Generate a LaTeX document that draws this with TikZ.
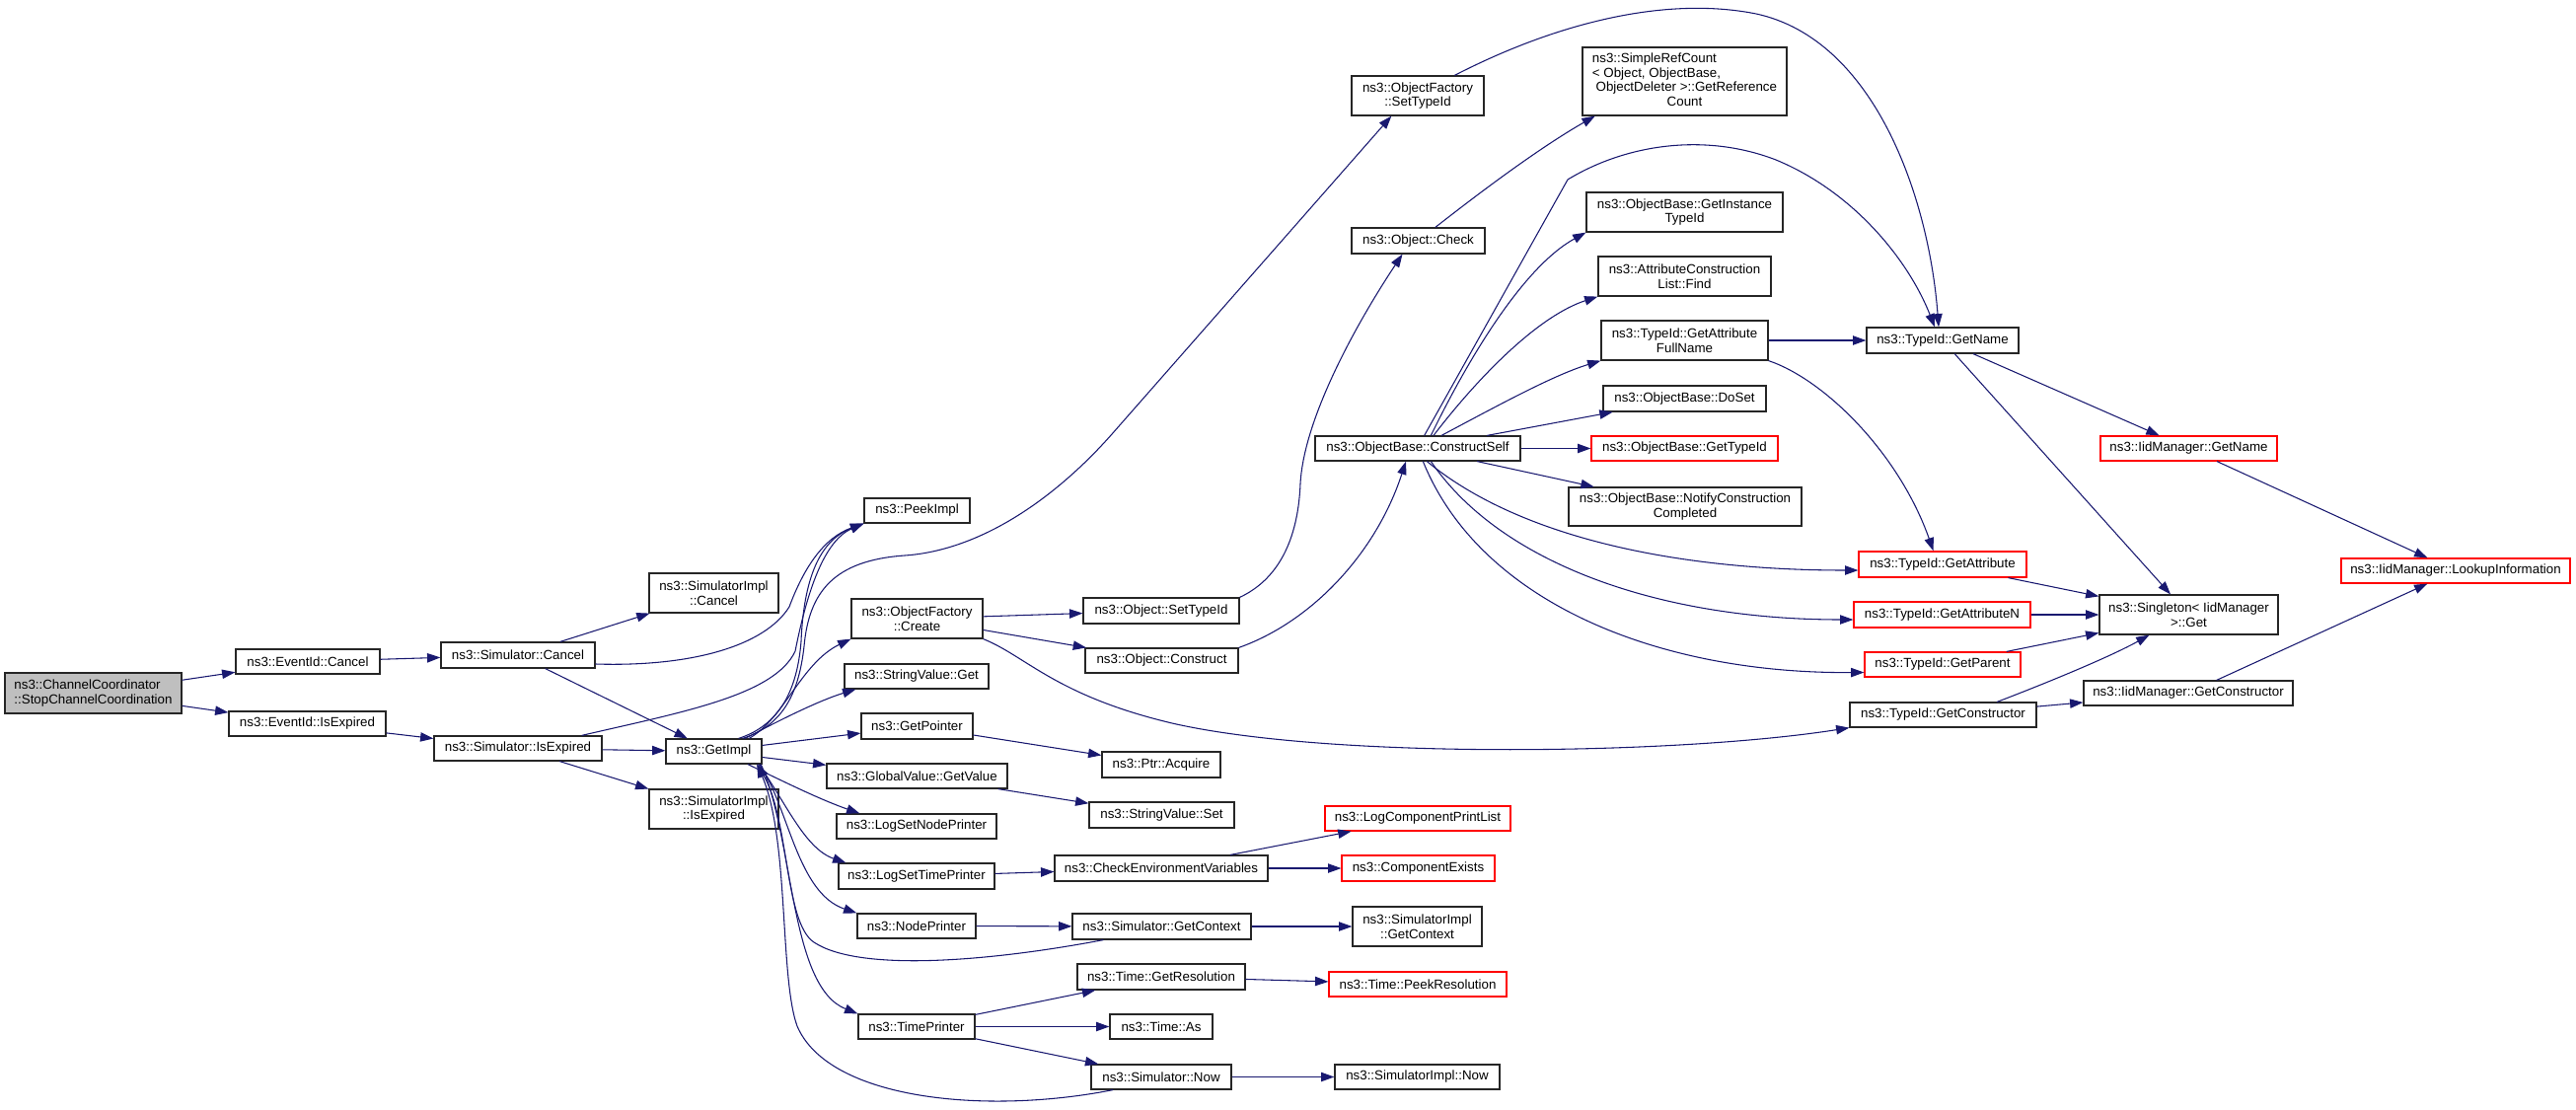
\documentclass[tikz,border=0pt]{standalone}
\usepackage{fontspec}
\setmainfont{Liberation Sans}
\usetikzlibrary{arrows.meta}
\definecolor{edgec}{HTML}{191970}
\definecolor{rootfill}{HTML}{BFBFBF}
\definecolor{bord}{HTML}{262626}
\begin{document}
\begin{tikzpicture}[x=0.75pt,y=-0.75pt,
  nd/.style={draw=bord, fill=white, line width=0.9pt, inner sep=0pt, align=center,
    font=\fontsize{10}{11}\selectfont},
  trunc/.style={draw=red},
  sz/.style 2 args={minimum width=#1*0.75pt, minimum height=#2*0.75pt},
  ed/.style={draw=edgec, line width=0.8pt, -{Triangle[length=10pt,width=7pt]}}]
\useasboundingbox (0,0) rectangle (2611,1124);

% column 1-4
\node[nd,fill=rootfill,sz={179}{41},align=left] (stop) at (94.5,702.5) {ns3::ChannelCoordinator\\::StopChannelCoordination};
\node[nd,sz={146}{25}] (evcancel) at (312,670.5) {ns3::EventId::Cancel};
\node[nd,sz={159}{25}] (evexp) at (311.5,733.5) {ns3::EventId::IsExpired};
\node[nd,sz={156}{26}] (simcancel) at (525,664) {ns3::Simulator::Cancel};
\node[nd,sz={170}{25}] (simexp) at (525,758.5) {ns3::Simulator::IsExpired};
\node[nd,sz={131}{40}] (implcancel) at (723.5,601) {ns3::SimulatorImpl\\::Cancel};
\node[nd,sz={97}{25}] (getimpl) at (723.5,761.5) {ns3::GetImpl};
\node[nd,sz={131}{40}] (implexp) at (723.5,820) {ns3::SimulatorImpl\\::IsExpired};
% column 5
\node[nd,sz={107}{25}] (peek) at (929.5,517.5) {ns3::PeekImpl};
\node[nd,sz={133}{40}] (create) at (929.5,627) {ns3::ObjectFactory\\::Create};
\node[nd,sz={146}{25}] (svget) at (929,685.5) {ns3::StringValue::Get};
\node[nd,sz={113}{26}] (getptr) at (929.5,736) {ns3::GetPointer};
\node[nd,sz={183}{25}] (gvget) at (929.5,786.5) {ns3::GlobalValue::GetValue};
\node[nd,sz={162}{25}] (lognode) at (929,837.5) {ns3::LogSetNodePrinter};
\node[nd,sz={158}{26}] (logtime) at (929,888) {ns3::LogSetTimePrinter};
\node[nd,sz={120}{25}] (nodeprinter) at (929,938.5) {ns3::NodePrinter};
\node[nd,sz={118}{25}] (timeprinter) at (929,1040.5) {ns3::TimePrinter};
% column 6
\node[nd,sz={158}{26}] (objsettype) at (1177,619) {ns3::Object::SetTypeId};
\node[nd,sz={155}{25}] (objconstruct) at (1177.5,669.5) {ns3::Object::Construct};
\node[nd,sz={120}{26}] (ptracq) at (1177,775) {ns3::Ptr::Acquire};
\node[nd,sz={147}{26}] (svset) at (1177.5,826) {ns3::StringValue::Set};
\node[nd,sz={216}{26}] (checkenv) at (1177,880) {ns3::CheckEnvironmentVariables};
\node[nd,sz={181}{26}] (simgetctx) at (1177.5,939) {ns3::Simulator::GetContext};
\node[nd,sz={170}{26}] (getres) at (1177,990) {ns3::Time::GetResolution};
\node[nd,sz={104}{25}] (timeas) at (1177,1040.5) {ns3::Time::As};
\node[nd,sz={142}{25}] (simnow) at (1177,1091.5) {ns3::Simulator::Now};
% column 7
\node[nd,sz={134}{40}] (ofsettype) at (1437,97) {ns3::ObjectFactory\\::SetTypeId};
\node[nd,sz={135}{26}] (objcheck) at (1437.5,244) {ns3::Object::Check};
\node[nd,sz={208}{25}] (constructself) at (1437,454.5) {ns3::ObjectBase::ConstructSelf};
\node[nd,trunc,sz={188}{25}] (logcomp) at (1437,829.5) {ns3::LogComponentPrintList};
\node[nd,trunc,sz={155}{26}] (compexists) at (1437.5,880) {ns3::ComponentExists};
\node[nd,sz={131}{40}] (implgetctx) at (1436.5,939) {ns3::SimulatorImpl\\::GetContext};
\node[nd,trunc,sz={180}{25}] (peekres) at (1437,997.5) {ns3::Time::PeekResolution};
\node[nd,sz={167}{25}] (implnow) at (1436.5,1091.5) {ns3::SimulatorImpl::Now};
% column 8
\node[nd,sz={207}{69}] (simpleref) at (1707.5,82.5) {\begin{tabular}{@{}l@{}}ns3::SimpleRefCount\\{<} Object, ObjectBase,\\\ ObjectDeleter {>}::GetReference\\\multicolumn{1}{@{}c@{}}{Count}\end{tabular}};
\node[nd,sz={199}{40}] (instance) at (1707.5,215) {ns3::ObjectBase::GetInstance\\TypeId};
\node[nd,sz={175}{40}] (attrfind) at (1707.5,280) {ns3::AttributeConstruction\\List::Find};
\node[nd,sz={169}{40}] (attrfull) at (1707.5,345) {ns3::TypeId::GetAttribute\\FullName};
\node[nd,sz={165}{26}] (doset) at (1707.5,404) {ns3::ObjectBase::DoSet};
\node[nd,trunc,sz={189}{25}] (gettypeid) at (1707.5,454.5) {ns3::ObjectBase::GetTypeId};
\node[nd,sz={236}{39}] (notify) at (1708,513.5) {ns3::ObjectBase::NotifyConstruction\\Completed};
% column 9
\node[nd,sz={154}{26}] (tgetname) at (1969,345) {ns3::TypeId::GetName};
\node[nd,trunc,sz={170}{26}] (getattr) at (1969,572) {ns3::TypeId::GetAttribute};
\node[nd,trunc,sz={179}{26}] (getattrn) at (1968.5,623) {ns3::TypeId::GetAttributeN};
\node[nd,trunc,sz={158}{25}] (getparent) at (1969,673.5) {ns3::TypeId::GetParent};
\node[nd,sz={189}{25}] (tgetctor) at (1969.5,724.5) {ns3::TypeId::GetConstructor};
% column 10-11
\node[nd,trunc,sz={179}{25}] (iidgetname) at (2218.5,454.5) {ns3::IidManager::GetName};
\node[nd,sz={181}{40}] (singleton) at (2218.5,623) {ns3::Singleton{<} IidManager\\{>}::Get};
\node[nd,sz={212}{25}] (iidgetctor) at (2218,702.5) {ns3::IidManager::GetConstructor};
\node[nd,trunc,sz={232}{25}] (lookup) at (2489,578.5) {ns3::IidManager::LookupInformation};

% edges: left part
\draw[ed] (stop) -- (evcancel);
\draw[ed] (stop) -- (evexp);
\draw[ed] (evcancel) -- (simcancel);
\draw[ed] (evexp) -- (simexp);
\draw[ed] (simcancel) -- (implcancel);
\draw[ed] (simcancel) -- (getimpl);
\draw[ed] (simexp) -- (getimpl);
\draw[ed] (simexp) -- (implexp);
\draw[ed] ([yshift=-6.75pt]simcancel.east) .. controls (700,676) and (775,655) .. (800,615) .. controls (815,575) and (835,545) .. (peek.south west);
\draw[ed] ([xshift=-15.75pt]simexp.north east) .. controls (690,722) and (785,705) .. (806,660) .. controls (818,600) and (835,548) .. (peek.south west);
\draw[ed] ([xshift=-18pt]getimpl.north east) .. controls (790,735) and (808,700) .. (812,650) .. controls (815,578) and (835,546) .. (peek.south west);
\draw[ed] ([xshift=-15pt]getimpl.north east) .. controls (795,735) and (810,700) .. (815,655) .. controls (820,600) and (845,568) .. (917,563) .. controls (990,558) and (1065,510) .. (1127,440) -- ([xshift=-20pt]ofsettype.south);
\draw[ed] ([xshift=-10pt]getimpl.north east) .. controls (795,728) and (812,672) .. (create.south west);
\draw[ed] ([xshift=-13pt]getimpl.north east) .. controls (790,730) and (830,710) .. ([xshift=9pt]svget.south west);
\draw[ed] (getimpl) -- (getptr);
\draw[ed] (getimpl) -- (gvget);
\draw[ed] ([xshift=-11pt]getimpl.south east) .. controls (790,790) and (830,810) .. ([xshift=18pt]lognode.north west);
\draw[ed] ([xshift=-3pt]getimpl.south east) .. controls (795,810) and (815,860) .. ([xshift=6pt]logtime.north west);
\draw[ed] ([xshift=-2pt]getimpl.south east) .. controls (800,820) and (808,905) .. (nodeprinter.north west);
\draw[ed] ([xshift=-1pt]getimpl.south east) .. controls (805,850) and (800,1000) .. (timeprinter.north west);
\draw[ed] ([xshift=24pt]simgetctx.south west) .. controls (1000,975) and (870,985) .. (825,955) .. controls (795,935) and (800,830) .. ([xshift=-4pt]getimpl.south east);
\draw[ed] ([xshift=17pt]simnow.south west) .. controls (1000,1130) and (840,1115) .. (808,1040) .. controls (790,990) and (800,850) .. ([xshift=-4pt]getimpl.south east);

% column 5 -> 6
\draw[ed] (create) -- (objsettype);
\draw[ed] (create) -- (objconstruct);
\draw[ed] (create.south east) .. controls (1040,665) and (1070,705) .. (1188,733) .. controls (1350,770) and (1700,765) .. (tgetctor.south west);
\draw[ed] (getptr) -- (ptracq);
\draw[ed] (gvget) -- (svset);
\draw[ed] (logtime) -- (checkenv);
\draw[ed] (nodeprinter) -- (simgetctx);
\draw[ed] (timeprinter) -- (getres);
\draw[ed] (timeprinter) -- (timeas);
\draw[ed] (timeprinter) -- (simnow);
% column 6 -> 7
\draw[ed] (checkenv) -- (logcomp);
\draw[ed] (checkenv) -- (compexists);
\draw[ed] (simgetctx) -- (implgetctx);
\draw[ed] (getres) -- (peekres);
\draw[ed] (simnow) -- (implnow);
\draw[ed] (objsettype.north east) .. controls (1300,585) and (1316,540) .. (1318,490) .. controls (1322,420) and (1380,320) .. ([xshift=-12pt]objcheck.south);
\draw[ed] (objconstruct.north east) .. controls (1330,630) and (1395,560) .. ([xshift=-9pt]constructself.south);
% upper part
\draw[ed] ([xshift=13pt]objcheck.north) .. controls (1500,195) and (1560,150) .. ([xshift=10pt]simpleref.south west);
\draw[ed] ([xshift=28pt]ofsettype.north) .. controls (1580,22) and (1690,-4) .. (1780,14) .. controls (1900,40) and (1955,200) .. ([xshift=-3pt]tgetname.north);
\draw[ed] ([xshift=5pt]constructself.north) -- (1589,182) .. controls (1650,145) and (1730,135) .. (1800,162) .. controls (1880,195) and (1935,265) .. ([xshift=-6pt]tgetname.north);
\draw[ed] ([xshift=10pt]constructself.north) .. controls (1490,360) and (1545,270) .. (instance.south west);
\draw[ed] ([xshift=12pt]constructself.north) .. controls (1500,380) and (1560,320) .. (attrfind.south west);
\draw[ed] ([xshift=18pt]constructself.north) .. controls (1520,410) and (1575,380) .. (attrfull.south west);
\draw[ed] (constructself) -- (doset);
\draw[ed] (constructself) -- (gettypeid);
\draw[ed] (constructself) -- (notify);
\draw[ed] ([xshift=7pt]constructself.south) .. controls (1540,545) and (1700,578) .. ([yshift=-4.5pt]getattr.west);
\draw[ed] ([xshift=10pt]constructself.south) .. controls (1520,570) and (1680,628) .. ([yshift=-3.75pt]getattrn.west);
\draw[ed] ([xshift=4pt]constructself.south) .. controls (1500,610) and (1680,683) .. ([yshift=-6pt]getparent.west);
\draw[ed] (attrfull) -- (tgetname);
\draw[ed] (attrfull.south east) .. controls (1850,385) and (1925,460) .. ([xshift=-7pt]getattr.north);
% right part
\draw[ed] (tgetname) -- (iidgetname);
\draw[ed] (tgetname) -- (singleton);
\draw[ed] (iidgetname) -- (lookup);
\draw[ed] (getattr) -- (singleton);
\draw[ed] (getattrn) -- (singleton);
\draw[ed] (getparent) -- (singleton);
\draw[ed] ([xshift=41pt]tgetctor.north) .. controls (2080,690) and (2140,665) .. ([xshift=-30pt]singleton.south);
\draw[ed] (tgetctor) -- (iidgetctor);
\draw[ed] (iidgetctor) -- (lookup);
\end{tikzpicture}
\end{document}
